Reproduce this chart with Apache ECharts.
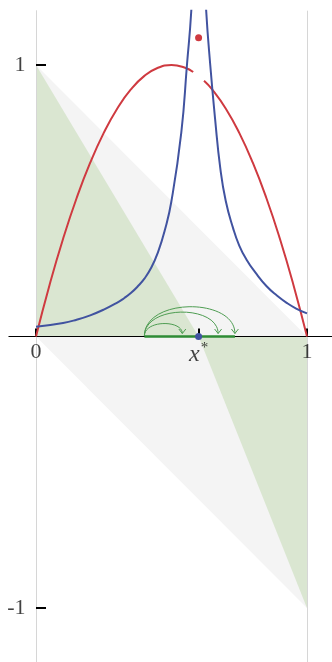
<!DOCTYPE html>
<html>
<head>
<meta charset="utf-8">
<script src="https://cdn.jsdelivr.net/npm/echarts@6/dist/echarts.min.js"></script>
<style>
  html, body { margin: 0; padding: 0; background: #fff; }
  #chart { width: 332px; height: 662px; }
</style>
</head>
<body>
<div id="chart"></div>
<script>
// Fixed point and axis ticks
const xStar = 0.6;
const xTicks = [0, xStar, 1];
const xTickLabels = ['0', '{i|x}{s|*}', '1'];
const yTicks = [-1, 1];
const yTickLabels = ['-1', '1'];

// Shaded cones: each edge is filled down/up to y = 0
const grayUpper = [[0, 1], [1, 0]];
const grayLower = [[0, 0], [1, -1]];
const greenUpper = [[0, 1], [xStar, 0]];
const greenLower = [[xStar, 0], [1, -1]];

// Red map, with a jump at x*
const redLeft = [[0, 0], [0.05, 0.19], [0.1, 0.36], [0.15, 0.51], [0.2, 0.64], [0.25, 0.75],
  [0.3, 0.84], [0.35, 0.91], [0.4, 0.96], [0.45, 0.99], [0.5, 1.0], [0.55, 0.99], [0.58, 0.974]];
const redRight = [[0.62, 0.942], [0.65, 0.91], [0.7, 0.84], [0.75, 0.75], [0.8, 0.64],
  [0.85, 0.51], [0.9, 0.36], [0.95, 0.19], [1, 0]];
const redDot = [[xStar, 1.1]];

// Blue curve, blowing up at x*
const blueLeft = [[0, 0.036], [0.1, 0.05], [0.15, 0.062], [0.2, 0.078], [0.25, 0.099],
  [0.3, 0.125], [0.325, 0.141], [0.35, 0.16], [0.375, 0.184], [0.4, 0.213], [0.425, 0.253],
  [0.45, 0.31], [0.475, 0.39], [0.5, 0.5], [0.536, 0.75], [0.557, 1.0], [0.573, 1.2], [0.581, 1.4]];
const blueRight = [[0.619, 1.4], [0.628, 1.2], [0.643, 1.0], [0.661, 0.8], [0.68, 0.62],
  [0.7, 0.5], [0.727, 0.4], [0.75, 0.335], [0.777, 0.283], [0.81, 0.235], [0.851, 0.185],
  [0.89, 0.15], [0.925, 0.124], [0.96, 0.103], [1, 0.085]];
const fixedPoint = [[xStar, 0]];

// Orbit jumps from a common start
const orbitStart = 0.4;
const orbitEnds = [0.54, 0.672, 0.734];

const serif = 'Liberation Serif';
const ink = '#111';
const chart = echarts.init(document.getElementById('chart'));

function fillSeries(data, color) {
  return {
    type: 'line', data: data, symbol: 'none', silent: true, z: 1,
    lineStyle: { width: 0 }, areaStyle: { color: color, opacity: 1 }
  };
}
function curveSeries(data, color) {
  return {
    type: 'line', data: data, symbol: 'none', smooth: 0.5,
    silent: true, z: 20, clip: true, lineStyle: { color: color, width: 2 }
  };
}
// Tick labels placed at their axis positions on the lines x = 0 and y = 0
function labelSeries(points, texts, position, dist) {
  return {
    type: 'scatter', silent: true, z: 30, symbolSize: 1,
    itemStyle: { color: 'rgba(0,0,0,0)' },
    data: points.map((p, i) => ({ value: p, name: texts[i] })),
    label: {
      show: true, position: position, distance: dist, color: ink,
      fontFamily: serif, fontSize: 22, formatter: p => p.name,
      rich: {
        i: { fontFamily: serif, fontStyle: 'italic', fontSize: 24, color: ink },
        s: { fontFamily: serif, fontSize: 15, color: ink, padding: [0, 0, 12, 1] }
      }
    }
  };
}

chart.setOption({
  animation: false,
  grid: { left: 8.9, top: 10.7, width: 325.2, height: 651.6, containLabel: false, outerBoundsMode: 'none' },
  xAxis: {
    type: 'value', min: -0.1, max: 1.1, z: 10,
    axisLine: { onZero: true, lineStyle: { color: '#000', width: 1 } },
    axisTick: { show: true, inside: true, length: 8, customValues: xTicks,
      lineStyle: { color: '#000', width: 2 } },
    axisLabel: { show: false },
    splitLine: { show: false }
  },
  yAxis: {
    type: 'value', min: -1.2, max: 1.2, z: 10,
    axisLine: { onZero: true, lineStyle: { color: '#d6d6d6', width: 1 } },
    axisTick: { show: true, inside: true, length: 10, customValues: yTicks,
      lineStyle: { color: '#000', width: 2 } },
    axisLabel: { show: false },
    splitLine: { show: false }
  },
  series: [
    Object.assign(fillSeries(grayUpper, '#f4f4f4'), {
      markLine: {
        silent: true, symbol: 'none', label: { show: false },
        lineStyle: { color: '#d6d6d6', width: 1, type: 'solid' },
        data: [{ xAxis: 1 }]
      }
    }),
    fillSeries(grayLower, '#f4f4f4'),
    fillSeries(greenUpper, '#dae6d1'),
    fillSeries(greenLower, '#dae6d1'),
    curveSeries(redLeft, '#cf3a40'),
    curveSeries(redRight, '#cf3a40'),
    curveSeries(blueLeft, '#4153a0'),
    curveSeries(blueRight, '#4153a0'),
    {
      type: 'scatter', data: redDot, symbolSize: 7, z: 21, silent: true,
      itemStyle: { color: '#cf3a40', opacity: 1 }
    },
    {
      type: 'line', data: [[orbitStart, 0], [orbitEnds[orbitEnds.length - 1], 0]],
      symbol: 'none', silent: true, z: 12,
      lineStyle: { color: '#2e8b34', width: 2.5 }
    },
    {
      type: 'custom', silent: true, z: 13,
      data: orbitEnds.map(e => [orbitStart, e]),
      renderItem: function (params, api) {
        const p0 = api.coord([api.value(0), 0]);
        const p1 = api.coord([api.value(1), 0]);
        const y0 = p0[1] - 0.5;
        const tipY = p0[1] - 3;
        const h = 0.32 * (p1[0] - p0[0]);
        const cy = y0 - h / 0.75;
        const style = { stroke: '#4e9d52', lineWidth: 1, fill: null };
        return {
          type: 'group',
          children: [
            {
              type: 'bezierCurve',
              shape: { x1: p0[0], y1: y0, x2: p1[0], y2: tipY, cpx1: p0[0], cpy1: cy, cpx2: p1[0], cpy2: cy },
              style: style
            },
            {
              type: 'polyline',
              shape: { points: [[p1[0] - 3.5, tipY - 4.5], [p1[0], tipY], [p1[0] + 3.5, tipY - 4.5]] },
              style: style
            }
          ]
        };
      }
    },
    {
      type: 'scatter', data: fixedPoint, symbolSize: 7, z: 22, silent: true,
      itemStyle: { color: '#4153a0', opacity: 1 }
    },
    labelSeries(xTicks.map(v => [v, 0]), xTickLabels, 'bottom', 4),
    labelSeries(yTicks.map(v => [0, v]), yTickLabels, 'left', 10)
  ]
});
</script>
</body>
</html>
